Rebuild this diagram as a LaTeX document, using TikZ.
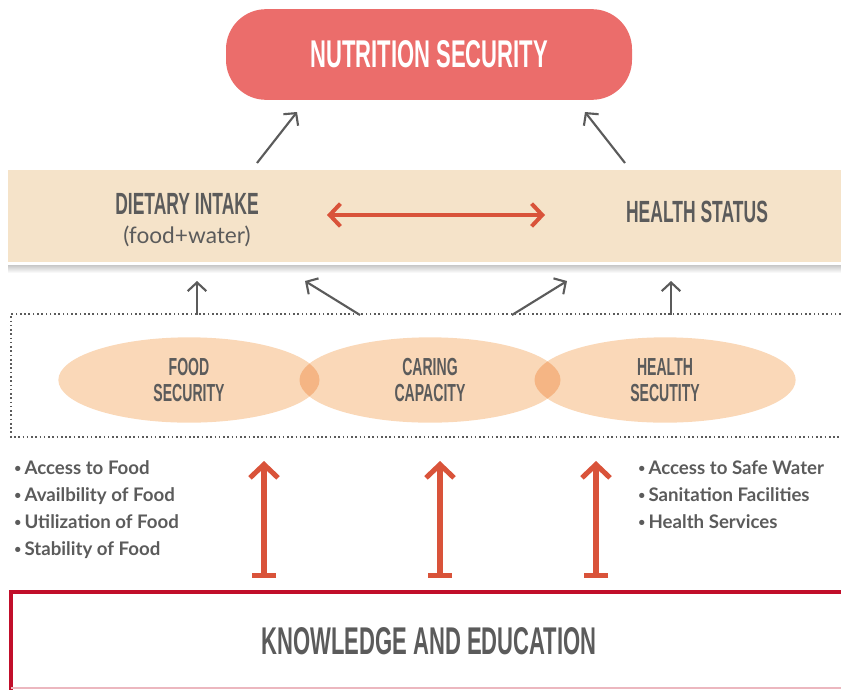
\documentclass[tikz,border=0pt]{standalone}
\usepackage{fontspec}
\usetikzlibrary{arrows.meta,shapes.geometric}

\newfontfamily\dinfont[FakeStretch=0.57]{Liberation Sans}
\newfontfamily\roundfont{Lato}

\definecolor{pillred}{HTML}{EB6D6B}
\definecolor{txtgray}{HTML}{5B5B5B}
\definecolor{bandbeige}{HTML}{F5E3C9}
\definecolor{peach}{HTML}{FAD8B8}
\definecolor{peachdark}{HTML}{F5B584}
\definecolor{arrowred}{HTML}{D9533A}
\definecolor{boxred}{HTML}{C10E2A}

\newcommand{\listdot}{\raisebox{1.5pt}{\fontsize{9}{9}\selectfont\textbullet}\hspace{2.5pt}}

\tikzset{
  bigtitle/.style={font=\dinfont\bfseries\fontsize{29}{30}\selectfont},
  midtitle/.style={font=\dinfont\bfseries\fontsize{23}{24}\selectfont, text=txtgray},
  ovaltext/.style={font=\dinfont\bfseries\fontsize{18.5}{20}\selectfont, text=txtgray, align=center},
  listtext/.style={font=\roundfont\bfseries\fontsize{14}{20.3}\selectfont, text=txtgray, align=left, anchor=north west, inner sep=0pt},
  oval/.style={ellipse, fill=peach, inner sep=0pt, minimum width=196pt, minimum height=64pt},
  grayarrow/.style={draw=txtgray, line width=1.6pt, -{Straight Barb[length=6.5pt,width=14pt]}},
  redarrow/.style={draw=arrowred, line width=3.8pt, {Bar[width=18pt]}-{Straight Barb[length=10pt,width=21pt]}}
}

\begin{document}
\begin{tikzpicture}[x=0.75pt, y=-0.75pt]
  \useasboundingbox (0,0) rectangle (841,689);

  % top goal
  \node [bigtitle, text=white, fill=pillred, rounded corners=30pt,
         minimum width=304.5pt, minimum height=68pt] (nutri) at (429,54.5) {NUTRITION SECURITY};

  % beige band with its shadow
  \shade [top color=black!22, bottom color=white] (8,265) rectangle (841,273);
  \node [fill=bandbeige, minimum width=625pt, minimum height=69pt, inner sep=0pt] (band) at (424.5,216) {};
  \node [midtitle] (diet) at (187,204) {DIETARY INTAKE};
  \node [font=\roundfont\fontsize{17}{18}\selectfont, text=txtgray] (water) at (187,236) {(food+water)};
  \node [midtitle] (health) at (697,212) {HEALTH STATUS};

  \coordinate (dl) at (327,215);
  \coordinate (dr) at (545,215);
  \draw [draw=arrowred, line width=3pt, {Straight Barb[length=8pt,width=17pt]}-{Straight Barb[length=8pt,width=17pt]}] (dl) -- (dr);

  % arrows to the top
  \coordinate (b1) at (257,163);
  \coordinate (n1) at (297,112);
  \coordinate (b2) at (625,163);
  \coordinate (n2) at (585,112);
  \draw [grayarrow] (b1) -- (n1);
  \draw [grayarrow] (b2) -- (n2);

  % dotted frame
  \draw [txtgray, line width=1.2pt, dotted] (845,314) -- (11,314) -- (11,437) -- (845,437);

  % three ovals
  \node [oval] (food) at (189,380) {};
  \node [oval] (care) at (430,380) {};
  \node [oval] (hlth) at (665,380) {};
  \begin{scope}
    \clip (189,380) ellipse [x radius=130.5, y radius=42.5];
    \fill [peachdark] (430,380) ellipse [x radius=130.5, y radius=42.5];
  \end{scope}
  \begin{scope}
    \clip (430,380) ellipse [x radius=130.5, y radius=42.5];
    \fill [peachdark] (665,380) ellipse [x radius=130.5, y radius=42.5];
  \end{scope}
  \node [ovaltext] at (food) {FOOD\\SECURITY};
  \node [ovaltext] at (care) {CARING\\CAPACITY};
  \node [ovaltext] at (hlth) {HEALTH\\SECUTITY};

  % arrows into the band
  \coordinate (f1) at (197,315);
  \coordinate (g1) at (197,281);
  \coordinate (f2) at (360,315);
  \coordinate (g2) at (305,281);
  \coordinate (f3) at (512,315);
  \coordinate (g3) at (567,281);
  \coordinate (f4) at (671,315);
  \coordinate (g4) at (671,281);
  \foreach \i in {1,...,4}
    \draw [grayarrow] (f\i) -- (g\i);

  % bullet lists
  \node [listtext] (leftlist) at (14,460) {\listdot Access to Food\\\listdot Availbility of Food\\\listdot Utilization of Food\\\listdot Stability of Food};
  \node [listtext] (rightlist) at (638,460) {\listdot Access to Safe Water\\\listdot Sanitation Facilities\\\listdot Health Services};

  % red arrows from the base
  \foreach \x [count=\k] in {264,440,596} {
    \coordinate (s\k) at (\x,578);
    \coordinate (t\k) at (\x,461);
    \draw [redarrow] (s\k) -- (t\k);
  }

  % base box
  \draw [boxred, line width=3pt] (845,592) -- (11,592) -- (11,692);
  \draw [boxred!30, line width=1pt] (11,688) -- (845,688);
  \node [bigtitle, text=txtgray] (know) at (429,641) {KNOWLEDGE AND EDUCATION};
\end{tikzpicture}
\end{document}
